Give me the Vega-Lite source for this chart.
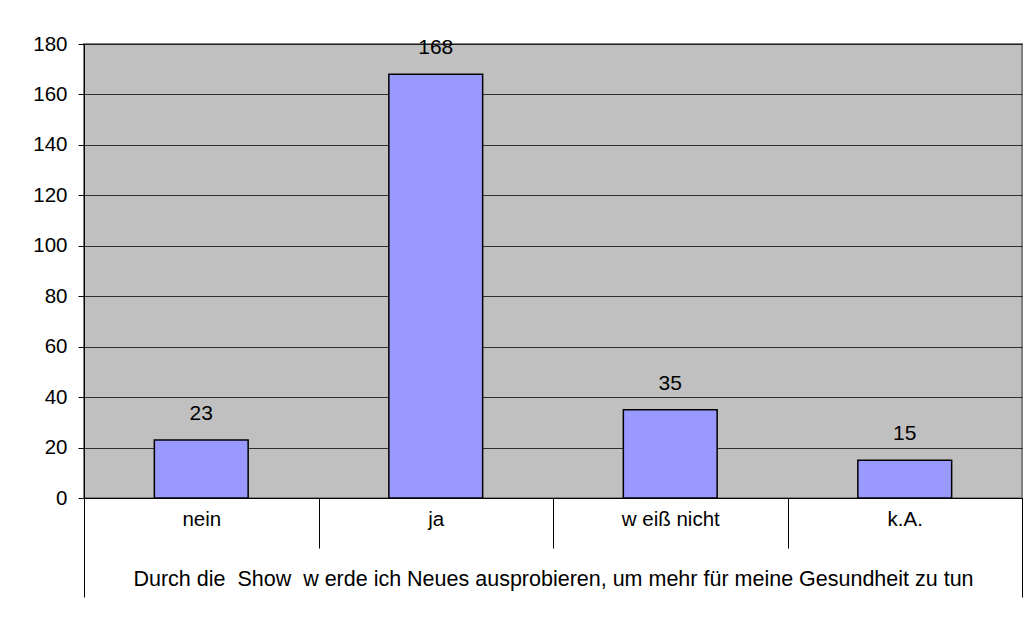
{
  "$schema": "https://vega.github.io/schema/vega-lite/v6.json",
  "autosize": {"type": "none"},
  "padding": {"left": 84, "top": 44, "right": 8, "bottom": 120},
  "width": 938,
  "height": 454,
  "background": "white",
  "layer": [
    {
      "data": {"values": [
        {"kategorie": "nein", "anzahl": 23},
        {"kategorie": "ja", "anzahl": 168},
        {"kategorie": "w eiß nicht", "anzahl": 35},
        {"kategorie": "k.A.", "anzahl": 15}
      ]},
      "encoding": {
        "x": {
          "field": "kategorie", "type": "nominal", "sort": null,
          "scale": {"paddingInner": 0, "paddingOuter": 0},
          "axis": {
            "title": null, "orient": "bottom",
            "tickBand": "extent",
            "tickSize": 50,
            "tickColor": "#000000", "tickWidth": 1,
            "domainColor": "#000000", "domainWidth": 1,
            "labelAngle": 0, "labelFont": "Liberation Sans", "labelFontSize": 20.5, "labelColor": "#000000",
            "labelPadding": -39,
            "grid": false
          }
        },
        "y": {
          "field": "anzahl", "type": "quantitative",
          "scale": {"domain": [0, 180], "nice": false},
          "axis": {
            "title": null, "values": [0, 20, 40, 60, 80, 100, 120, 140, 160, 180],
            "grid": true, "gridColor": "#000000", "gridOpacity": 0.75, "gridWidth": 1,
            "tickSize": 6, "tickColor": "#000000", "domainColor": "#000000",
            "labelFont": "Liberation Sans", "labelFontSize": 20.5, "labelColor": "#000000", "labelPadding": 11
          }
        }
      },
      "layer": [
        {"mark": {"type": "bar", "width": {"band": 0.4}, "color": "#9999FF", "stroke": "#000000", "strokeWidth": 1.5}},
        {"mark": {"type": "text", "baseline": "middle", "dy": -26, "font": "Liberation Sans", "fontSize": 21, "color": "#000000"},
         "encoding": {"text": {"field": "anzahl", "type": "quantitative"}}}
      ]
    },
    {
      "data": {"values": [{"frage": "Durch die \u00a0Show \u00a0w erde ich Neues ausprobieren, um mehr für meine Gesundheit zu tun"}]},
      "mark": {"type": "point", "opacity": 0},
      "encoding": {
        "x": {
          "field": "frage", "type": "nominal",
          "scale": {"paddingInner": 0, "paddingOuter": 0},
          "axis": {
            "title": null, "orient": "bottom",
            "tickBand": "extent", "tickSize": 99,
            "tickColor": "#000000", "tickWidth": 1,
            "domain": false,
            "labelAngle": 0, "labelFont": "Liberation Sans", "labelFontSize": 21.5, "labelColor": "#000000",
            "labelPadding": -29, "labelLimit": 0,
            "grid": false
          }
        },
        "y": {"datum": 0, "type": "quantitative"}
      }
    }
  ],
  "resolve": {"scale": {"x": "independent"}, "axis": {"x": "independent"}},
  "config": {
    "view": {"fill": "#C0C0C0", "stroke": "#808080", "strokeWidth": 2},
    "axis": {"labelFlush": false}
  }
}
